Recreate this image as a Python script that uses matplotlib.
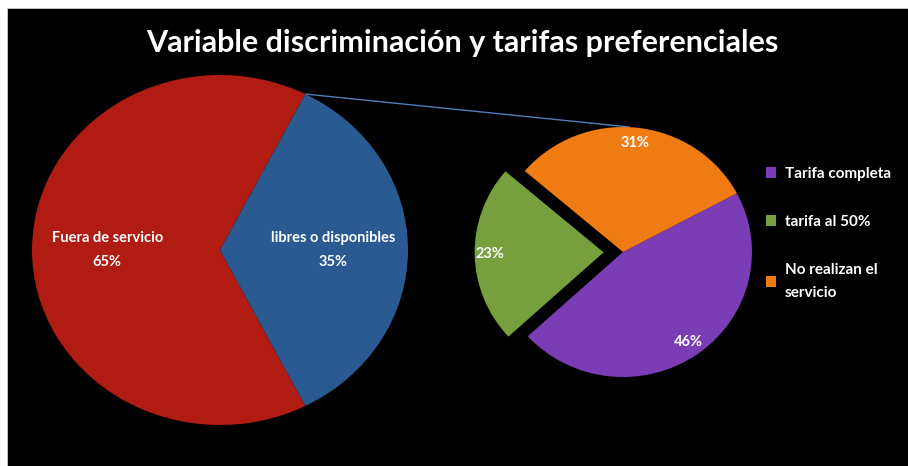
import matplotlib.pyplot as plt
from matplotlib.patches import Rectangle, ConnectionPatch

# Datos
titulo = 'Variable discriminación y tarifas preferenciales'

cat_izq = ['Fuera de servicio', 'libres o disponibles']
val_izq = [65, 35]
col_izq = ['#b01b12', '#2a5a92']

cat_der = ['Tarifa completa', 'tarifa al 50%', 'No realizan el\nservicio']
val_der = [46, 23, 31]
col_der = ['#7b3db6', '#76a03e', '#f07b12']
explode_der = [0, 0.15, 0]

W, H = 908, 466
fig = plt.figure(figsize=(W / 100, H / 100), dpi=100)
fig.patch.set_facecolor('white')
# Fondo negro con borde blanco arriba/izquierda
fig.patches.append(Rectangle((7 / W, 0), 1, (H - 8) / H, transform=fig.transFigure,
                             facecolor='black', edgecolor='#cccccc', linewidth=0.6, zorder=-5))

fig.text(462 / W, 1 - 43 / H, titulo, color='white', fontsize=22, fontweight='bold',
         family='Lato', ha='center', va='center')


def px_axes(cx, cy, rx, ry, m=1.0):
    # ejes en pixeles: centro (cx, cy desde arriba), radios rx, ry
    ax = fig.add_axes([(cx - rx * m) / W, (H - cy - ry * m) / H, 2 * rx * m / W, 2 * ry * m / H])
    ax.set_zorder(2)
    return ax


# Pie izquierdo
ax1 = px_axes(220, 250, 188, 175)
w1, t1, a1 = ax1.pie(val_izq, colors=col_izq, startangle=-63, counterclock=False,
                     autopct=lambda p: '', pctdistance=0.6,
                     wedgeprops=dict(linewidth=0))
for a, c, v in zip(a1, cat_izq, val_izq):
    a.set_text(f'{c}\n{v}%')
    a.set_color('white')
    a.set_fontsize(10.5)
    a.set_family('Lato')
    a.set_fontweight('bold')
    a.set_linespacing(1.9)
ax1.set_aspect('auto')
ax1.set_xlim(-1, 1)
ax1.set_ylim(-1, 1)

# Pie derecho
M = 1.35
ax2 = px_axes(623, 252, 129, 125, M)
w2, t2, a2 = ax2.pie(val_der, colors=col_der, startangle=28, counterclock=False,
                     explode=explode_der, autopct='%1.0f%%', pctdistance=0.88,
                     wedgeprops=dict(linewidth=0),
                     textprops=dict(color='white', fontsize=10.5, fontweight='bold', family='Lato'))
ax2.set_aspect('auto')
ax2.set_xlim(-M, M)
ax2.set_ylim(-M, M)

# Linea de conexion
con = ConnectionPatch(xyA=(0.454, 0.891), coordsA=ax1.transData,
                      xyB=(0.05, 1.0), coordsB=ax2.transData,
                      color='#4f7db8', linewidth=1.0, zorder=1)
fig.add_artist(con)

# Leyenda
leg = fig.legend(w2, cat_der, loc='upper left', bbox_to_anchor=(752 / W, 1 - 153 / H),
                 frameon=False, labelcolor='white', handlelength=0.7, handleheight=0.7,
                 handletextpad=0.55, labelspacing=2.25,
                 prop=dict(family='Lato', size=11, weight='bold'))
for t in leg.get_texts():
    t.set_linespacing(1.75)

fig.savefig('out.png', dpi=100, facecolor=fig.get_facecolor())
